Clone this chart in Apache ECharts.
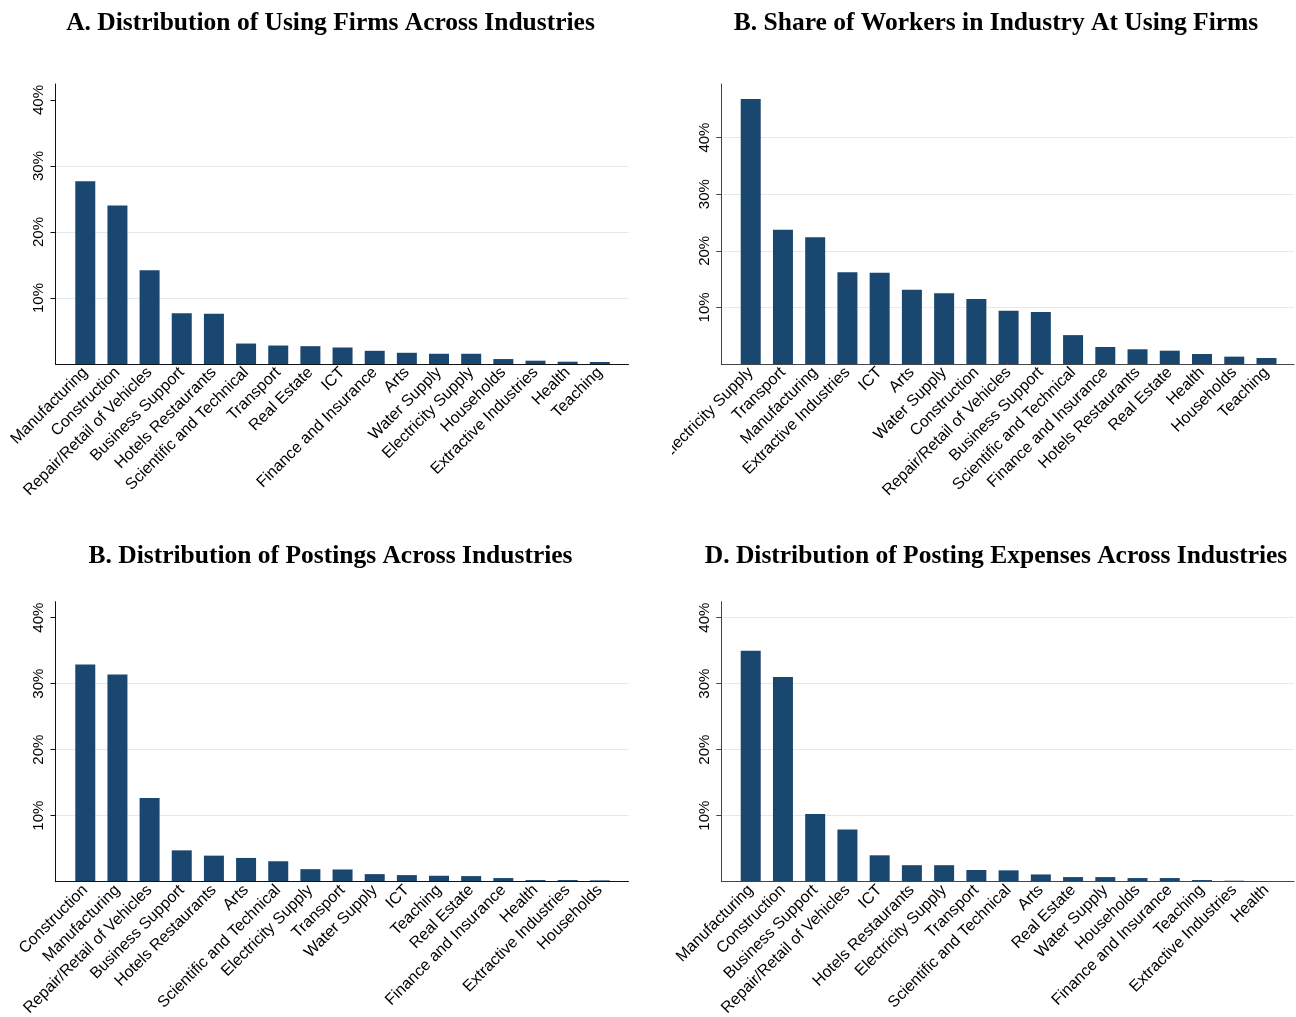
<!DOCTYPE html>
<html>
<head>
<meta charset="utf-8">
<script src="https://cdn.jsdelivr.net/npm/echarts@6/dist/echarts.min.js"></script>
<style>
  html, body { margin: 0; padding: 0; background: #ffffff; }
  body { width: 1296px; height: 1017px; position: relative; overflow: hidden; }
  .panel { position: absolute; }
</style>
</head>
<body>
<div id="pA" class="panel" style="left:0px;top:0px;width:672px;height:530px;"></div>
<div id="pB" class="panel" style="left:672px;top:0px;width:624px;height:530px;"></div>
<div id="pC" class="panel" style="left:0px;top:530px;width:672px;height:487px;"></div>
<div id="pD" class="panel" style="left:672px;top:530px;width:624px;height:487px;"></div>
<script>
// Share of each industry (percent), sorted as displayed
const catsA = ['Manufacturing', 'Construction', 'Repair/Retail of Vehicles', 'Business Support',
  'Hotels Restaurants', 'Scientific and Technical', 'Transport', 'Real Estate', 'ICT',
  'Finance and Insurance', 'Arts', 'Water Supply', 'Electricity Supply', 'Households',
  'Extractive Industries', 'Health', 'Teaching'];
const valsA = [27.7, 24.0, 14.2, 7.7, 7.6, 3.1, 2.8, 2.7, 2.5, 2.0, 1.7, 1.55, 1.55, 0.75, 0.5, 0.35, 0.3];

const catsB = ['Electricity Supply', 'Transport', 'Manufacturing', 'Extractive Industries', 'ICT',
  'Arts', 'Water Supply', 'Construction', 'Repair/Retail of Vehicles', 'Business Support',
  'Scientific and Technical', 'Finance and Insurance', 'Hotels Restaurants', 'Real Estate',
  'Health', 'Households', 'Teaching'];
const valsB = [46.8, 23.7, 22.4, 16.2, 16.1, 13.1, 12.5, 11.5, 9.4, 9.2, 5.1, 3.0, 2.6, 2.35, 1.77, 1.3, 1.06];

const catsC = ['Construction', 'Manufacturing', 'Repair/Retail of Vehicles', 'Business Support',
  'Hotels Restaurants', 'Arts', 'Scientific and Technical', 'Electricity Supply', 'Transport',
  'Water Supply', 'ICT', 'Teaching', 'Real Estate', 'Finance and Insurance', 'Health',
  'Extractive Industries', 'Households'];
const valsC = [32.9, 31.4, 12.7, 4.75, 3.95, 3.6, 3.1, 1.9, 1.85, 1.15, 1.0, 0.9, 0.85, 0.55, 0.25, 0.25, 0.2];

const catsD = ['Manufacturing', 'Construction', 'Business Support', 'Repair/Retail of Vehicles', 'ICT',
  'Hotels Restaurants', 'Electricity Supply', 'Transport', 'Scientific and Technical', 'Arts',
  'Real Estate', 'Water Supply', 'Households', 'Finance and Insurance', 'Teaching',
  'Extractive Industries', 'Health'];
const valsD = [35.0, 31.0, 10.25, 7.9, 4.0, 2.5, 2.5, 1.77, 1.72, 1.1, 0.7, 0.7, 0.55, 0.55, 0.25, 0.15, 0.1];

// Labelled y ticks, and the levels that get a horizontal gridline in each panel
const yTicks = [10, 20, 30, 40];
const gridLevelsShort = [10, 20, 30];
const gridLevelsFull = [10, 20, 30, 40];

const BAR = '#1a476f';
const GRID = '#e2eaee';

function buildOption(cfg) {
  return {
    animation: false,
    title: {
      text: cfg.title,
      left: cfg.titleX,
      top: cfg.titleY,
      textAlign: 'center',
      textStyle: { fontFamily: 'Liberation Serif', fontWeight: 'bold', fontSize: 25.5, color: '#000' }
    },
    grid: [
      // frame: axis lines, ticks, gridlines
      { left: cfg.outerLeft, width: cfg.outerWidth, top: cfg.top, height: cfg.height,
        containLabel: false, outerBoundsMode: 'none' },
      // bars with category labels
      { left: cfg.innerLeft, width: cfg.innerWidth, top: cfg.top, height: cfg.height,
        containLabel: false, outerBoundsMode: 'none' }
    ],
    xAxis: [
      {
        gridIndex: 0, type: 'value', min: 0, max: 1, z: 10,
        axisLine: { show: true, lineStyle: { color: cfg.axisColor, width: 1 } },
        axisTick: { show: false }, axisLabel: { show: false }, splitLine: { show: false }
      },
      {
        gridIndex: 1, type: 'category', data: cfg.cats, boundaryGap: true,
        axisLine: { show: false }, axisTick: { show: false },
        axisLabel: {
          interval: 0, rotate: 45, margin: 6, color: '#000',
          fontFamily: 'Liberation Sans', fontSize: 16
        }
      }
    ],
    yAxis: [
      {
        gridIndex: 0, type: 'value', min: 0, max: cfg.max, interval: 10,
        axisLine: { show: true, lineStyle: { color: cfg.axisColor, width: 1 } },
        axisTick: { show: true, length: 5, customValues: yTicks, lineStyle: { color: cfg.axisColor } },
        axisLabel: {
          show: true, rotate: 90, margin: 9, color: '#000', fontFamily: 'Liberation Sans', fontSize: 15,
          customValues: yTicks,
          formatter: function (v) { return yTicks.indexOf(v) >= 0 ? v + '%' : ''; }
        },
        splitLine: { show: false }
      },
      {
        gridIndex: 1, type: 'value', min: 0, max: cfg.max, show: false,
        splitLine: { show: false }
      }
    ],
    series: [
      {
        // horizontal gridlines across the frame, behind the bars
        type: 'line', xAxisIndex: 0, yAxisIndex: 0, data: [], z: 0, silent: true,
        markLine: {
          silent: true, symbol: 'none', animation: false, z: 0, zlevel: 0,
          label: { show: false },
          lineStyle: { color: GRID, width: 1, type: 'solid' },
          emphasis: { disabled: true },
          data: cfg.gridLevels.map(function (v) { return { yAxis: v }; })
        }
      },
      {
        type: 'bar', xAxisIndex: 1, yAxisIndex: 1, data: cfg.vals, barWidth: 20,
        itemStyle: { color: BAR }, z: 6
      }
    ]
  };
}

const panels = [
  { id: 'pA', title: 'A. Distribution of Using Firms Across Industries', cats: catsA, vals: valsA,
    titleX: 325.5, titleY: 5, top: 84, height: 280, max: 280 / 6.6, gridLevels: gridLevelsShort,
    axisColor: '#111', outerLeft: 55.5, outerWidth: 573, innerLeft: 69.2, innerWidth: 546.7 },
  { id: 'pB', title: 'B. Share of Workers in Industry At Using Firms', cats: catsB, vals: valsB,
    titleX: 319, titleY: 5, top: 84, height: 280, max: 280 / 5.66, gridLevels: gridLevelsFull,
    axisColor: '#444', outerLeft: 49.3, outerWidth: 572.7, innerLeft: 62.6, innerWidth: 548 },
  { id: 'pC', title: 'B. Distribution of Postings Across Industries', cats: catsC, vals: valsC,
    titleX: 325.5, titleY: 8, top: 71.7, height: 280, max: 280 / 6.6, gridLevels: gridLevelsShort,
    axisColor: '#111', outerLeft: 55.5, outerWidth: 573, innerLeft: 69.2, innerWidth: 546.7 },
  { id: 'pD', title: 'D. Distribution of Posting Expenses Across Industries', cats: catsD, vals: valsD,
    titleX: 319, titleY: 8, top: 71.7, height: 280, max: 280 / 6.6, gridLevels: gridLevelsFull,
    axisColor: '#444', outerLeft: 49.3, outerWidth: 572.7, innerLeft: 62.6, innerWidth: 548 }
];

panels.forEach(function (p) {
  const chart = echarts.init(document.getElementById(p.id), null, { renderer: 'canvas' });
  chart.setOption(buildOption(p));
});
</script>
</body>
</html>
